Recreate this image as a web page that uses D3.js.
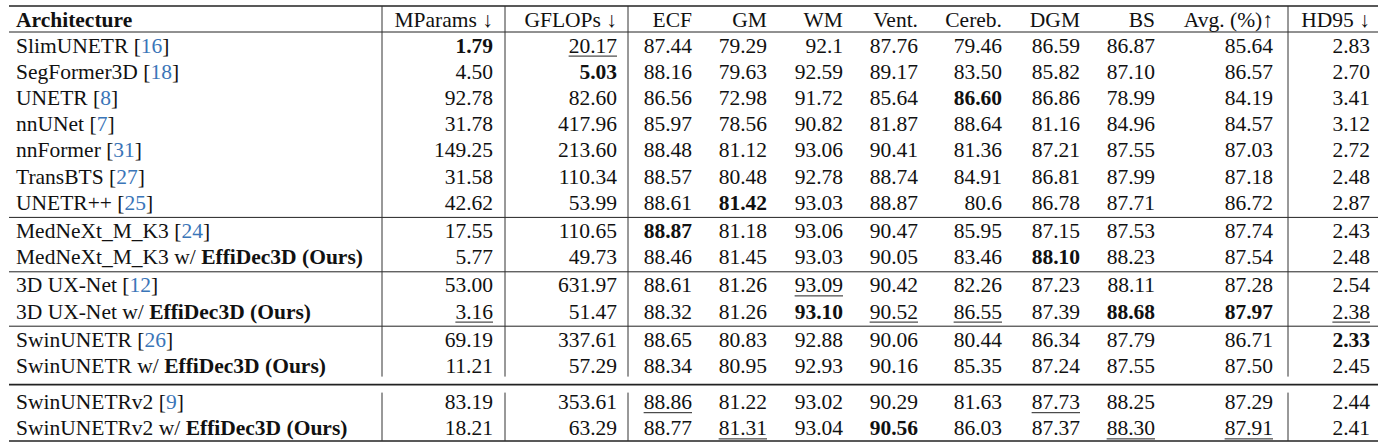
<!DOCTYPE html>
<html>
<head>
<meta charset="utf-8">
<script src="https://cdn.jsdelivr.net/npm/d3@7"></script>
<style>
  body { margin: 0; background: #fff; }
  svg text { font-family: 'Liberation Serif', 'Times New Roman', Tinos, 'DejaVu Serif', serif; font-size: 21.5px; fill: #111; }
</style>
</head>
<body>
<div id="chart-area"></div>
<script>
// Table content
let headers = ['Architecture', 'MParams \u2193', 'GFLOPs \u2193', 'ECF', 'GM', 'WM', 'Vent.', 'Cereb.', 'DGM', 'BS', 'Avg. (%)\u2191', 'HD95 \u2193'];
let archNames = ['SlimUNETR', 'SegFormer3D', 'UNETR', 'nnUNet', 'nnFormer', 'TransBTS', 'UNETR++',
    'MedNeXt_M_K3', 'MedNeXt_M_K3 w/ ', '3D UX-Net', '3D UX-Net w/ ', 'SwinUNETR', 'SwinUNETR w/ ',
    'SwinUNETRv2', 'SwinUNETRv2 w/ '];
let archBold = ['', '', '', '', '', '', '', '', 'EffiDec3D (Ours)', '', 'EffiDec3D (Ours)', '', 'EffiDec3D (Ours)', '', 'EffiDec3D (Ours)'];
let cites = [16, 18, 8, 7, 31, 27, 25, 24, null, 12, null, 26, null, 9, null];
let groups = [0, 0, 0, 0, 0, 0, 0, 1, 1, 2, 2, 3, 3, 4, 4];

let mparams = ['1.79', '4.50', '92.78', '31.78', '149.25', '31.58', '42.62', '17.55', '5.77', '53.00', '3.16', '69.19', '11.21', '83.19', '18.21'];
let gflops = ['20.17', '5.03', '82.60', '417.96', '213.60', '110.34', '53.99', '110.65', '49.73', '631.97', '51.47', '337.61', '57.29', '353.61', '63.29'];
let ecf = ['87.44', '88.16', '86.56', '85.97', '88.48', '88.57', '88.61', '88.87', '88.46', '88.61', '88.32', '88.65', '88.34', '88.86', '88.77'];
let gm = ['79.29', '79.63', '72.98', '78.56', '81.12', '80.48', '81.42', '81.18', '81.45', '81.26', '81.26', '80.83', '80.95', '81.22', '81.31'];
let wm = ['92.1', '92.59', '91.72', '90.82', '93.06', '92.78', '93.03', '93.06', '93.03', '93.09', '93.10', '92.88', '92.93', '93.02', '93.04'];
let vent = ['87.76', '89.17', '85.64', '81.87', '90.41', '88.74', '88.87', '90.47', '90.05', '90.42', '90.52', '90.06', '90.16', '90.29', '90.56'];
let cereb = ['79.46', '83.50', '86.60', '88.64', '81.36', '84.91', '80.6', '85.95', '83.46', '82.26', '86.55', '80.44', '85.35', '81.63', '86.03'];
let dgm = ['86.59', '85.82', '86.86', '81.16', '87.21', '86.81', '86.78', '87.15', '88.10', '87.23', '87.39', '86.34', '87.24', '87.73', '87.37'];
let bs = ['86.87', '87.10', '78.99', '84.96', '87.55', '87.99', '87.71', '87.53', '88.23', '88.11', '88.68', '87.79', '87.55', '88.25', '88.30'];
let avg = ['85.64', '86.57', '84.19', '84.57', '87.03', '87.18', '86.72', '87.74', '87.54', '87.28', '87.97', '86.71', '87.50', '87.29', '87.91'];
let hd95 = ['2.83', '2.70', '3.41', '3.12', '2.72', '2.48', '2.87', '2.43', '2.48', '2.54', '2.38', '2.33', '2.45', '2.44', '2.41'];

// best (bold) and second best (underline): [row, column]
let best = [[0, 1], [1, 2], [2, 7], [6, 4], [7, 3], [8, 8], [10, 5], [10, 9], [10, 10], [11, 11], [14, 6]];
let second = [[0, 2], [9, 5], [10, 1], [10, 6], [10, 7], [10, 11], [13, 3], [13, 8], [14, 4], [14, 9], [14, 10]];

let columns = [mparams, gflops, ecf, gm, wm, vent, cereb, dgm, bs, avg, hd95];

let svgWidth = 1383, svgHeight = 442;
let svg = d3.select('#chart-area').append('svg')
    .attr('width', svgWidth)
    .attr('height', svgHeight)
    .attr('font-family', "'Liberation Serif', 'Times New Roman', 'DejaVu Serif', serif");

// Column right edges (first column is left aligned)
let colX = d3.scaleOrdinal()
    .domain(d3.range(12))
    .range([16, 493, 617, 692, 767, 843, 918, 1002, 1080, 1155, 1273, 1370]);
let dividers = [382, 505, 628, 1288];
let left = 9, right = 1378;

let topY = 6, headLine = 32, rowH = 26.2;
let rowY = d3.scaleLinear().domain([0, 1]).range([headLine, headLine + rowH]);
function groupShift(g) { return g * 2 + (g >= 4 ? 8 : 0); }
function yCenter(i) { return rowY(i + 0.5) + groupShift(groups[i]); }
function groupStart(g) { let i = groups.indexOf(g); return rowY(i) + groupShift(g); }
let bottomY = rowY(archNames.length) + groupShift(4);

// Horizontal rules
let rules = [{ y: topY, w: 1.6 }, { y: headLine, w: 1 }];
[1, 2, 3].forEach(function(g) { rules.push({ y: groupStart(g), w: 1 }); });
rules.push({ y: groupStart(4) - 4, w: 1.6 });
rules.push({ y: bottomY, w: 1.6 });
svg.selectAll('line.rule').data(rules).enter().append('line')
    .attr('class', 'rule')
    .attr('x1', left).attr('x2', right)
    .attr('y1', function(d) { return d.y; })
    .attr('y2', function(d) { return d.y; })
    .attr('stroke', '#222')
    .attr('stroke-width', function(d) { return d.w; });

// Vertical rules, broken around the gap before the last group
let vSegs = [];
dividers.forEach(function(x) {
    vSegs.push({ x: x, y1: topY, y2: groupStart(4) - 12 });
    vSegs.push({ x: x, y1: groupStart(4) + 4, y2: bottomY });
});
svg.selectAll('line.vrule').data(vSegs).enter().append('line')
    .attr('class', 'vrule')
    .attr('x1', function(d) { return d.x; })
    .attr('x2', function(d) { return d.x; })
    .attr('y1', function(d) { return d.y1; })
    .attr('y2', function(d) { return d.y2; })
    .attr('stroke', '#333')
    .attr('stroke-width', 1);

// Header
let headY = (topY + headLine) / 2;
svg.selectAll('text.head').data(headers).enter().append('text')
    .attr('class', 'head')
    .attr('x', function(d, i) { return colX(i); })
    .attr('y', headY)
    .attr('dy', '0.35em')
    .attr('text-anchor', function(d, i) { return i === 0 ? 'start' : 'end'; })
    .style('font-weight', function(d, i) { return i === 0 ? 'bold' : 'normal'; })
    .text(function(d) { return d; });

// Architecture column
archNames.forEach(function(name, i) {
    let t = svg.append('text')
        .attr('x', colX(0))
        .attr('y', yCenter(i))
        .attr('dy', '0.35em');
    t.append('tspan').text(name);
    if (archBold[i]) t.append('tspan').style('font-weight', 'bold').text(archBold[i]);
    if (cites[i] !== null) {
        t.append('tspan').text(' [');
        t.append('tspan').style('fill', '#3a75b8').text(cites[i]);
        t.append('tspan').text(']');
    }
});

// Numeric cells
function isIn(list, r, c) { return list.some(function(p) { return p[0] === r && p[1] === c; }); }
columns.forEach(function(values, ci) {
    let c = ci + 1;
    values.forEach(function(v, r) {
        let t = svg.append('text')
            .attr('x', colX(c))
            .attr('y', yCenter(r))
            .attr('dy', '0.35em')
            .attr('text-anchor', 'end')
            .style('font-weight', isIn(best, r, c) ? 'bold' : 'normal')
            .text(v);
        if (isIn(second, r, c)) {
            let w = t.node().getComputedTextLength();
            svg.append('line')
                .attr('x1', colX(c) - w).attr('x2', colX(c))
                .attr('y1', yCenter(r) + 11).attr('y2', yCenter(r) + 11)
                .attr('stroke', '#222').attr('stroke-width', 1);
        }
    });
});
</script>
</body>
</html>
